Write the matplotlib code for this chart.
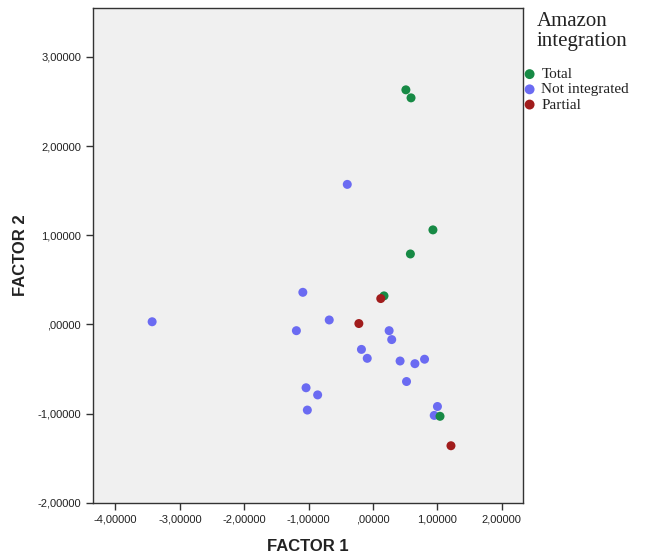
import matplotlib
matplotlib.use("Agg")
import matplotlib.pyplot as plt
from matplotlib.ticker import FuncFormatter, FixedLocator

# Data
total_x = [0.51, 0.59, 0.93, 0.58, 0.17, 1.04]
total_y = [2.63, 2.54, 1.06, 0.79, 0.32, -1.03]
not_x = [-0.40, -1.09, -3.43, -0.68, -1.19, 0.25, 0.29, -0.18, -0.09, 0.42, 0.65, 0.80,
         0.52, -1.04, -0.86, -1.02, 1.00, 0.95]
not_y = [1.57, 0.36, 0.03, 0.05, -0.07, -0.07, -0.17, -0.28, -0.38, -0.41, -0.44, -0.39,
         -0.64, -0.71, -0.79, -0.96, -0.92, -1.02]
partial_x = [-0.22, 0.12, 1.21]
partial_y = [0.01, 0.29, -1.36]
xticks = [-4, -3, -2, -1, 0, 1, 2]
yticks = [-2, -1, 0, 1, 2, 3]
legend_title = "Amazon\nintegration"
labels = ["Total", "Not integrated", "Partial"]

def fmt(v, pos=None):
    s = f"{v:.5f}".replace(".", ",")
    if s.startswith("0,"):
        s = s[1:]
    elif s.startswith("-0,"):
        s = s[2:]
    return s

fig = plt.figure(figsize=(6.45, 5.55), dpi=100)
ax = fig.add_axes([0.144, 0.094, 0.667, 0.892])
ax.set_facecolor("#f0f0f0")

c_total = "#178a45"
c_not = "#6b6bf2"
c_partial = "#a11c1c"
h2 = ax.scatter(not_x, not_y, s=42, color=c_not, edgecolors="none", zorder=3)
h1 = ax.scatter(total_x, total_y, s=42, color=c_total, edgecolors="none", zorder=3)
h3 = ax.scatter(partial_x, partial_y, s=42, color=c_partial, edgecolors="none", zorder=4)

ax.set_xlim(-4.35, 2.33)
ax.set_ylim(-2.0, 3.55)
ax.xaxis.set_major_locator(FixedLocator(xticks))
ax.yaxis.set_major_locator(FixedLocator(yticks))
ax.xaxis.set_major_formatter(FuncFormatter(fmt))
ax.yaxis.set_major_formatter(FuncFormatter(fmt))
ax.tick_params(direction="out", length=5, width=1, color="#333333",
               labelsize=8, labelcolor="#222222")
for lab in ax.get_xticklabels() + ax.get_yticklabels():
    lab.set_family("Liberation Sans")
for sp in ax.spines.values():
    sp.set_color("#333333")
    sp.set_linewidth(1)

ax.set_xlabel("FACTOR 1", fontsize=12, fontweight="bold", family="Liberation Sans",
              color="#222222", labelpad=10)
ax.set_ylabel("FACTOR 2", fontsize=12, fontweight="bold", family="Liberation Sans",
              color="#222222", labelpad=7)

fig.text(0.8326, 0.978, legend_title, ha="left", va="top", fontsize=15,
         family="Liberation Serif", color="#222222", linespacing=1.05)
leg = fig.legend([h1, h2, h3], labels, loc="upper left", bbox_to_anchor=(0.798, 0.884),
                 frameon=False, prop={"family": "Liberation Serif", "size": 11},
                 handletextpad=0.0, labelspacing=0.1, borderpad=0.2, borderaxespad=0,
                 markerscale=1.1, handlelength=1.55)
for t in leg.get_texts():
    t.set_color("#222222")

fig.savefig("out.png", dpi=100)
